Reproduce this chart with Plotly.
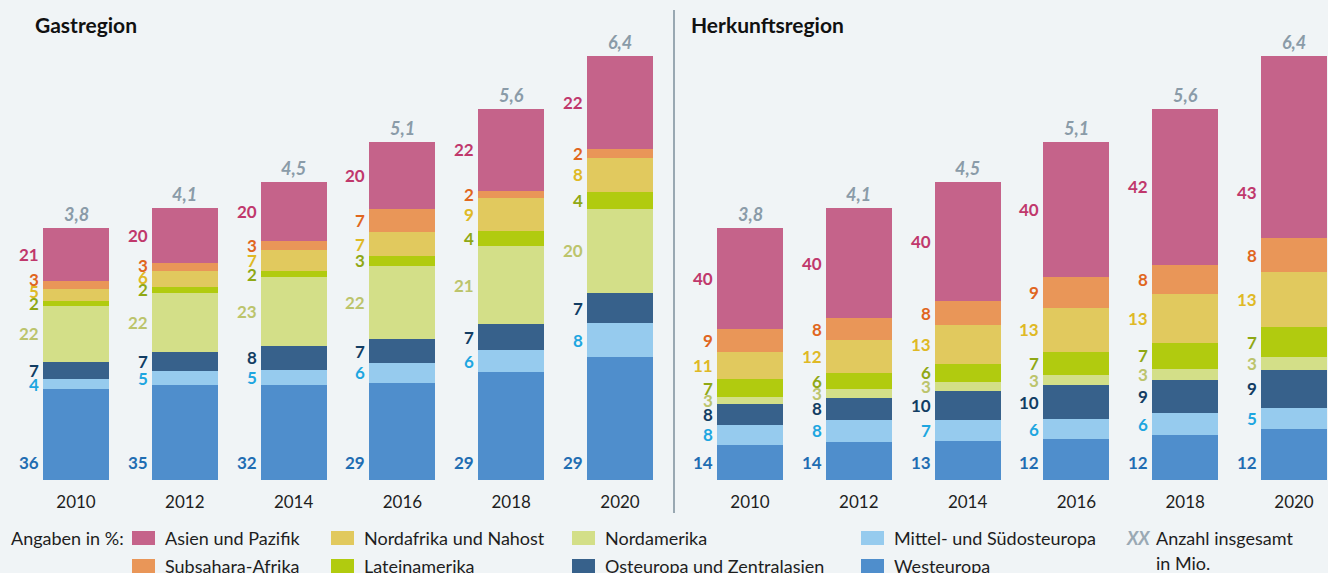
import plotly.graph_objects as go

# ---------------- data ----------------
years = ["2010", "2012", "2014", "2016", "2018", "2020"]
totals = [3.8, 4.1, 4.5, 5.1, 5.6, 6.4]          # Anzahl insgesamt in Mio.
total_labels = ["3,8", "4,1", "4,5", "5,1", "5,6", "6,4"]

regions = ["Westeuropa", "Mittel- und Südosteuropa", "Osteuropa und Zentralasien",
           "Nordamerika", "Lateinamerika", "Nordafrika und Nahost",
           "Subsahara-Afrika", "Asien und Pazifik"]           # bottom -> top

gast_westeuropa = [36, 35, 32, 29, 29, 29]
gast_mittel_suedost = [4, 5, 5, 6, 6, 8]
gast_osteuropa = [7, 7, 8, 7, 7, 7]
gast_nordamerika = [22, 22, 23, 22, 21, 20]
gast_lateinamerika = [2, 2, 2, 3, 4, 4]
gast_nordafrika = [5, 6, 7, 7, 9, 8]
gast_subsahara = [3, 3, 3, 7, 2, 2]
gast_asien = [21, 20, 20, 20, 22, 22]

herk_westeuropa = [14, 14, 13, 12, 12, 12]
herk_mittel_suedost = [8, 8, 7, 6, 6, 5]
herk_osteuropa = [8, 8, 10, 10, 9, 9]
herk_nordamerika = [3, 3, 3, 3, 3, 3]
herk_lateinamerika = [7, 6, 6, 7, 7, 7]
herk_nordafrika = [11, 12, 13, 13, 13, 13]
herk_subsahara = [9, 8, 8, 9, 8, 8]
herk_asien = [40, 40, 40, 40, 42, 43]

gast = [gast_westeuropa, gast_mittel_suedost, gast_osteuropa, gast_nordamerika,
        gast_lateinamerika, gast_nordafrika, gast_subsahara, gast_asien]
herk = [herk_westeuropa, herk_mittel_suedost, herk_osteuropa, herk_nordamerika,
        herk_lateinamerika, herk_nordafrika, herk_subsahara, herk_asien]

# ---------------- styles ----------------
bar_colors = ["#4f8ecc", "#96cbee", "#37618b", "#d3df88",
              "#b1cb0f", "#e1c95e", "#e99658", "#c5638a"]
text_colors = ["#1f6db2", "#1ea6e0", "#123d63", "#bcc46c",
               "#8fa814", "#dfb925", "#e0661e", "#c0386c"]
BG = "#f0f4f6"
FONT = "Lato, 'Source Sans Pro', 'Noto Sans', sans-serif"
W, H = 1328, 573
BOTTOM_PX = 480
PX_PER_M = 66.27
SPACING = 108.8
BAR_W = 66 / SPACING
LEFT_DIV = 674
LBL_SIZE = 17
LEG_SIZE = 18

def px_x(x):
    return x / W

def px_y(y):
    return 1 - y / H

fig = go.Figure()
annotations = []
shapes = []

panels = [("x", "y", gast, "Gastregion", 0, 33),
          ("x2", "y2", herk, "Herkunftsregion", 1, 689)]

xs = list(range(len(years)))
min_gap = 12 / PX_PER_M

for xa, ya, data, title, pidx, title_x in panels:
    sums = [sum(data[r][i] for r in range(len(regions))) for i in xs]
    scaled = [[data[r][i] / sums[i] * totals[i] for i in xs] for r in range(len(regions))]
    for r, reg in enumerate(regions):
        fig.add_trace(go.Bar(
            x=xs, y=scaled[r], xaxis=xa, yaxis=ya, width=BAR_W,
            marker=dict(color=bar_colors[r], line=dict(width=0)),
            name=reg, showlegend=False, hoverinfo="skip"))
    # value labels
    for i in xs:
        base = 0.0
        prev = None
        for r in range(len(regions)):
            h = scaled[r][i]
            if r == 0:
                yl = 0.27
            else:
                yl = base + h / 2
                # top segment of the large origin bar: label sits lower
                if pidx == 1 and r == len(regions) - 1 and i == len(xs) - 1:
                    yl = base + h * 0.25
                if prev is not None and yl - prev < min_gap and r > 1:
                    yl = prev + min_gap
            prev = yl
            base += h
            annotations.append(dict(
                x=i - BAR_W / 2, y=yl, xref=xa, yref=ya, text=str(data[r][i]),
                showarrow=False, xanchor="right", yanchor="middle", xshift=-2,
                font=dict(family=FONT, size=LBL_SIZE, color=text_colors[r], weight="bold")))
        annotations.append(dict(
            x=i, y=totals[i], xref=xa, yref=ya, text=total_labels[i],
            showarrow=False, xanchor="center", yanchor="middle", yshift=14,
            font=dict(family=FONT, size=18, color="#8a9ba8", weight="bold", style="italic")))
    annotations.append(dict(
        x=px_x(title_x), y=px_y(24), xref="paper", yref="paper", text="<b>" + title + "</b>",
        showarrow=False, xanchor="left", yanchor="middle",
        font=dict(family=FONT, size=21, color="#111111")))

# divider
shapes.append(dict(type="line", xref="paper", yref="paper",
                   x0=px_x(LEFT_DIV), x1=px_x(LEFT_DIV), y0=px_y(10), y1=px_y(513),
                   line=dict(color="#7d8f9b", width=1.5)))

# ---------------- legend (manual) ----------------
annotations.append(dict(x=px_x(9), y=px_y(538), xref="paper", yref="paper",
                        text="Angaben in %:", showarrow=False, xanchor="left", yanchor="middle",
                        font=dict(family=FONT, size=LEG_SIZE, color="#1e1e1e")))
legend_layout = [  # (region index, swatch left px, row center px)
    (7, 132, 538), (5, 331, 538), (3, 572, 538), (1, 861, 538),
    (6, 132, 566), (4, 331, 566), (2, 572, 566), (0, 861, 566)]
for r, lx, cy in legend_layout:
    shapes.append(dict(type="rect", xref="paper", yref="paper",
                       x0=px_x(lx), x1=px_x(lx + 23), y0=px_y(cy - 7), y1=px_y(cy + 7),
                       fillcolor=bar_colors[r], line=dict(width=0)))
    annotations.append(dict(x=px_x(lx + 31), y=px_y(cy), xref="paper", yref="paper",
                            text=regions[r], showarrow=False, xanchor="left", yanchor="middle",
                            font=dict(family=FONT, size=LEG_SIZE, color="#1e1e1e")))
annotations.append(dict(x=px_x(1124), y=px_y(538), xref="paper", yref="paper",
                        text="XX", showarrow=False, xanchor="left", yanchor="middle",
                        font=dict(family=FONT, size=LEG_SIZE, color="#9aa9b4", weight="bold", style="italic")))
annotations.append(dict(x=px_x(1154), y=px_y(538), xref="paper", yref="paper",
                        text="Anzahl insgesamt", showarrow=False, xanchor="left", yanchor="middle",
                        font=dict(family=FONT, size=LEG_SIZE, color="#1e1e1e")))
annotations.append(dict(x=px_x(1154), y=px_y(563), xref="paper", yref="paper",
                        text="in Mio.", showarrow=False, xanchor="left", yanchor="middle",
                        font=dict(family=FONT, size=LEG_SIZE, color="#1e1e1e")))

# ---------------- axes ----------------
def xaxis_cfg(dom_px0, dom_px1, center0_px, anchor):
    a = -(center0_px - dom_px0) / SPACING
    b = a + (dom_px1 - dom_px0) / SPACING
    return dict(domain=[dom_px0 / W, dom_px1 / W], range=[a, b], anchor=anchor,
                tickvals=xs, ticktext=years, ticks="", showgrid=False, zeroline=False,
                showline=False, ticklabelstandoff=10,
                tickfont=dict(family=FONT, size=17, color="#1e1e1e"), fixedrange=True)

ydom = [(H - BOTTOM_PX) / H, 1]
yrange = [0, BOTTOM_PX / PX_PER_M]
ycfg = dict(domain=ydom, range=yrange, visible=False, showgrid=False, zeroline=False, fixedrange=True)

fig.update_layout(
    width=W, height=H, autosize=False,
    margin=dict(l=0, r=0, t=0, b=0),
    paper_bgcolor=BG, plot_bgcolor=BG,
    barmode="stack", bargap=0,
    xaxis=xaxis_cfg(0, LEFT_DIV, 76, "y"),
    xaxis2=xaxis_cfg(LEFT_DIV, W, 750, "y2"),
    yaxis=dict(ycfg, anchor="x"), yaxis2=dict(ycfg, anchor="x2"),
    annotations=annotations, shapes=shapes,
    font=dict(family=FONT),
)

fig.write_html("out.html", config={"displayModeBar": False},
               post_script="document.body.style.margin='0';document.body.style.background='" + BG + "';")
